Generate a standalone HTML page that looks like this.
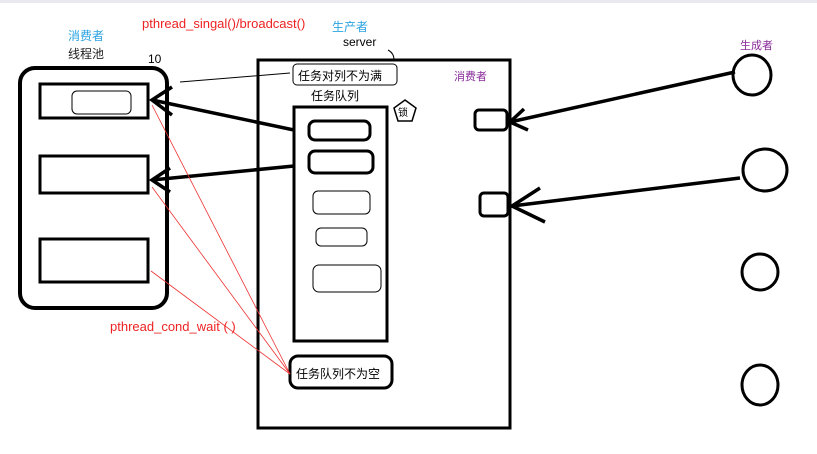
<!DOCTYPE html>
<html><head><meta charset="utf-8"><style>
body{margin:0;width:817px;height:449px;overflow:hidden;background:#fff}
text{font-family:"Liberation Sans","Noto Sans CJK SC",sans-serif}
</style></head><body>
<svg width="817" height="449" viewBox="0 0 817 449" xmlns="http://www.w3.org/2000/svg">
<rect x="0" y="0" width="817" height="3" fill="#e8e8ee"/>
<g fill="none" stroke="#000">
<rect x="20" y="68" width="147" height="240" rx="15" stroke-width="4"/>
<rect x="40" y="84" width="108" height="34" stroke-width="3"/>
<rect x="72" y="91" width="59" height="23" rx="5" stroke-width="1"/>
<rect x="40" y="156" width="108" height="37" stroke-width="3"/>
<rect x="40" y="239" width="108" height="43" stroke-width="3"/>
<rect x="258" y="60" width="252" height="368" stroke-width="3"/>
<rect x="294" y="107" width="93" height="234" stroke-width="3"/>
<rect x="309" y="121" width="61" height="19" rx="6" stroke-width="3"/>
<rect x="309" y="151" width="64" height="22" rx="6" stroke-width="3"/>
<rect x="313" y="191" width="57" height="23" rx="5" stroke-width="1"/>
<rect x="316" y="228" width="51" height="18" rx="5" stroke-width="1"/>
<rect x="313" y="265" width="68" height="27" rx="6" stroke-width="1"/>
<rect x="293" y="64" width="104" height="21" rx="4" stroke-width="1"/>
<rect x="290" y="356" width="102" height="32" rx="8" stroke-width="3"/>
<polygon points="405,100 416,108 412,121 398,121 394,108" stroke-width="1.5"/>
<rect x="475" y="110" width="32" height="20" rx="4" stroke-width="3"/>
<rect x="480" y="193" width="28" height="23" rx="4" stroke-width="3"/>
<ellipse cx="752" cy="75" rx="19" ry="20" stroke-width="3"/>
<ellipse cx="765" cy="170" rx="22" ry="21" stroke-width="3"/>
<ellipse cx="760" cy="272" rx="18" ry="18" stroke-width="3"/>
<ellipse cx="760" cy="385" rx="18" ry="20" stroke-width="3"/>
<g stroke-width="3.5">
<line x1="294" y1="130" x2="152" y2="100"/>
<polyline points="172,87 152,100 172,115"/>
<line x1="294" y1="166" x2="152" y2="180"/>
<polyline points="170,168 152,180 170,192"/>
<line x1="735" y1="72" x2="510" y2="122"/>
<polyline points="524,109 510,122 528,130"/>
<line x1="740" y1="178" x2="512" y2="206"/>
<polyline points="540,188 512,206 545,222"/>
</g>
<line x1="180" y1="82" x2="290" y2="73" stroke-width="1"/>
<path d="M388,50 q6,3 6,10" stroke-width="1"/>
</g>
<g stroke="#e33" stroke-width="0.8" fill="none">
<line x1="152" y1="105" x2="290" y2="374"/>
<line x1="152" y1="187" x2="290" y2="374"/>
<line x1="151" y1="271" x2="290" y2="374"/>
</g>
<text x="68" y="40" font-size="12" fill="#29a3e0">消费者</text>
<text x="68" y="58" font-size="12" fill="#222">线程池</text>
<text x="148" y="63" font-size="12">10</text>
<text x="142" y="28" font-size="13" fill="#e22">pthread_singal()/broadcast()</text>
<text x="332" y="31" font-size="12" fill="#29a3e0">生产者</text>
<text x="343" y="46" font-size="12">server</text>
<text x="298" y="80" font-size="12">任务对列不为满</text>
<text x="311" y="100" font-size="12">任务队列</text>
<text x="398" y="116" font-size="10">锁</text>
<text x="454" y="80" font-size="11" fill="#8a2b9b">消费者</text>
<text x="740" y="49" font-size="11" fill="#8a2b9b">生成者</text>
<text x="110" y="331" font-size="13" fill="#e22">pthread_cond_wait (  )</text>
<text x="296" y="378" font-size="12">任务队列不为空</text>
</svg>
</body></html>
